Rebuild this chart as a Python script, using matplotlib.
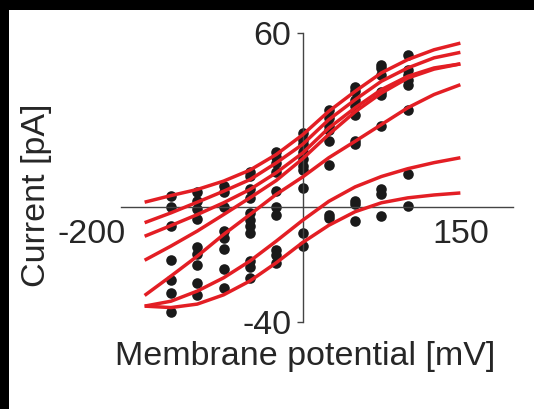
import matplotlib
matplotlib.use('Agg')
from matplotlib import pyplot as plt
from matplotlib.patches import Rectangle

plt.rcParams['font.family'] = ['Liberation Sans', 'DejaVu Sans']
plt.rcParams['axes.unicode_minus'] = False

# membrane potential of the fitted curves (mV)
curve_v = [-150, -125, -100, -75, -50, -25, 0, 25, 50, 75, 100, 125, 150]
# fitted currents (pA), one list per cell
curve_a = [1.5, 3.8, 5.9, 8.8, 12.6, 18.0, 24.8, 33.0, 39.9, 46.3, 50.9, 54.3, 56.6]
curve_b = [-5.6, -2.2, 1.5, 5.3, 9.3, 15.1, 21.5, 30.1, 37.0, 43.4, 48.0, 51.5, 53.4]
curve_c = [-10.3, -6.6, -2.8, 1.3, 5.9, 11.7, 18.5, 27.2, 34.2, 40.5, 45.1, 48.0, 49.4]
curve_d = [-18.6, -13.7, -8.5, -2.8, 3.0, 9.0, 16.5, 25.0, 32.8, 39.3, 44.5, 47.6, 49.4]
curve_e = [-30.8, -24.1, -17.2, -9.7, -2.8, 4.2, 10.2, 16.9, 22.6, 28.4, 34.2, 38.8, 42.2]
curve_f = [-34.5, -32.8, -29.3, -24.7, -18.9, -12.0, -4.8, 1.8, 6.8, 10.4, 13.1, 15.2, 16.9]
curve_g = [-34.5, -35.0, -33.8, -30.6, -25.8, -19.5, -12.5, -6.5, -1.8, 1.3, 3.0, 4.0, 4.7]
curves = [curve_a, curve_b, curve_c, curve_d, curve_e, curve_f, curve_g]

# measured points (pA) at each step potential (mV)
dot_v = [-125, -100, -75, -50, -25, 0, 25, 50, 75, 100]
dot_i = [
    [3.8, -0.1, -6.8, -18.5, -25.5, -29.9, -36.6],
    [5.0, 1.8, -0.8, -4.3, -14.1, -16.6, -20.4, -26.4, -30.8],
    [7.2, 5.2, -0.3, -8.5, -10.8, -14.8, -21.8, -28.1],
    [12.1, 10.4, 5.9, 3.1, -2.1, -4.5, -6.9, -9.3, -19.0, -21.1, -24.6],
    [19.0, 17.3, 15.2, 12.1, 5.5, 0.0, -2.8, -14.9, -16.9, -19.7],
    [25.3, 23.2, 21.5, 19.0, 16.6, 14.2, 12.8, 6.4, -9.1, -13.7],
    [33.6, 30.7, 27.8, 26.6, 22.6, 14.5, -2.8, -3.9],
    [41.4, 39.9, 37.0, 34.7, 31.8, 22.6, 21.5, 1.8, 0.7, -5.1],
    [49.1, 48.0, 45.7, 39.6, 38.8, 27.8, 5.9, 4.2, -3.4],
    [52.6, 47.4, 45.7, 43.9, 42.2, 33.6, 11.1, 0.1],
]

x_ticks = [-200, 150]
y_ticks = [-40, 60]

W, H = 534, 409
fig = plt.figure(figsize=(W / 100, H / 100), dpi=100)
fig.patch.set_facecolor('black')
fig.patches.append(Rectangle((9 / W, 0), 1 - 9 / W, 1 - 10 / H,
                             transform=fig.transFigure, facecolor='white',
                             edgecolor='none', zorder=-5))

ax = fig.add_axes([92 / W, (H - 322) / H, 421 / W, 288.7 / H])
ax.set_facecolor('none')
ax.set_zorder(2)
ax.set_xlim(-200, 200)
ax.set_ylim(-40, 60)

for c in curves:
    ax.plot(curve_v, c, color='#e31e24', lw=2.5, solid_capstyle='butt',
            solid_joinstyle='round', zorder=3)

for v, vals in zip(dot_v, dot_i):
    ax.scatter([v] * len(vals), vals, s=58, color='#1a1a1a', zorder=2, linewidths=0)

axis_col = '#444444'
txt_col = '#262626'
fs = 24.5
for side in ['top', 'right']:
    ax.spines[side].set_visible(False)
ax.spines['left'].set_position(('data', 0))
ax.spines['bottom'].set_position(('data', 0))
ax.spines['left'].set_bounds(-40, 60)
ax.spines['bottom'].set_bounds(-172, 200)
for side in ['left', 'bottom']:
    ax.spines[side].set_color(axis_col)
    ax.spines[side].set_linewidth(1.0)

ax.set_xticks(x_ticks)
ax.set_xticklabels([str(t) for t in x_ticks])
ax.set_xticks([150], minor=True)
ax.tick_params(axis='x', which='major', length=0, pad=9, labelsize=fs, labelcolor=txt_col)
ax.tick_params(axis='x', which='minor', length=4, width=1.0, color=axis_col, direction='out')
ax.set_yticks(y_ticks)
ax.set_yticklabels([str(t) for t in y_ticks])
ax.tick_params(axis='y', which='major', length=4, width=1.0, pad=4, labelsize=fs,
               labelcolor=txt_col, color=axis_col)

fig.text(305 / W, 1 - 356 / H, 'Membrane potential [mV]', fontsize=fs,
         color=txt_col, ha='center', va='center')
fig.text(37 / W, 1 - 195 / H, 'Current [pA]', fontsize=fs, color=txt_col,
         ha='center', va='center', rotation=90)

fig.savefig('out.png', dpi=100, facecolor=fig.get_facecolor())
